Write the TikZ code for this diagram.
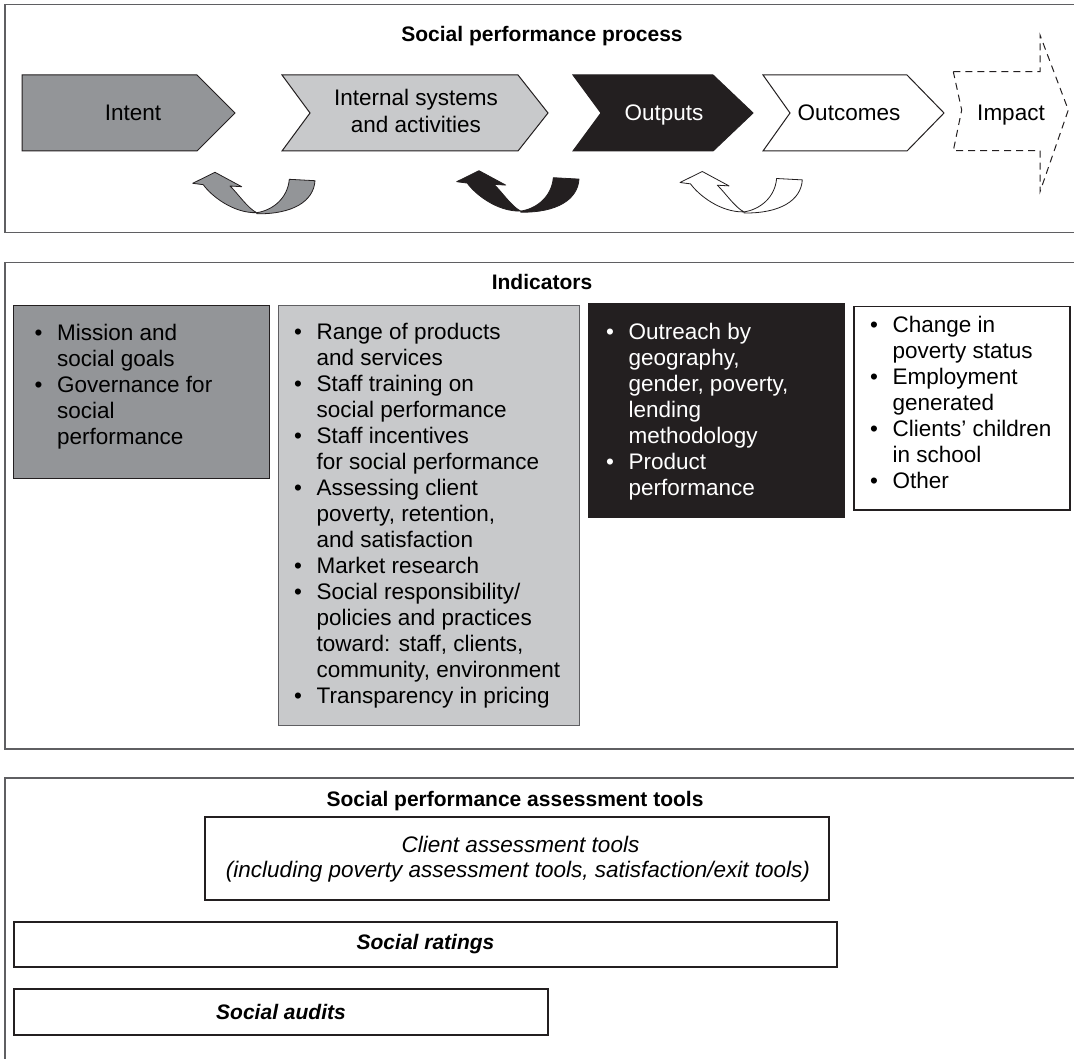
\documentclass[tikz,border=0pt]{standalone}
\usepackage{fontspec}
\setmainfont{Liberation Sans}
\definecolor{ink}{RGB}{35,31,32}
\definecolor{midgray}{RGB}{147,149,152}
\definecolor{lightgray}{RGB}{200,201,203}
\definecolor{framegray}{RGB}{95,95,98}
\newcommand\bl{\makebox[22.5pt][l]{\textbullet}}
\newcommand\ct{\hspace*{22.5pt}}
\newcommand\curvyarrow[2]{%
  \begin{scope}[shift={#1}]
    \filldraw[fill=#2, draw=ink, line width=0.8pt, line join=round]
      (0,0) -- (22.3,-11) -- (49,3.4) -- (37.3,2.7)
      .. controls (45,10) and (55,25) .. (64,29.4)
      .. controls (40,30) and (18,12) .. (10.6,1.4) -- cycle;
    \filldraw[fill=#2, draw=ink, line width=0.8pt, line join=round]
      (96.6,-4) -- (122.3,-2.6)
      .. controls (121,18) and (100,31) .. (64,30.5)
      -- (64,29.4)
      .. controls (80,27) and (95,15) .. (96.6,-4) -- cycle;
  \end{scope}}
\begin{document}
\begin{tikzpicture}[x=1pt,y=-1pt,
  frame/.style={draw=framegray, line width=1.6pt},
  chev/.style={draw=ink, line width=1pt, line join=miter},
  lbl/.style={font=\fontsize{22.5}{28}\selectfont, inner sep=0, anchor=base},
  ttl/.style={font=\bfseries\fontsize{21}{25}\selectfont, inner sep=0, anchor=base},
  blist/.style={anchor=north west, inner sep=0, align=left, font=\fontsize{22.5}{26}\selectfont},
  indbox/.style={anchor=north west, inner sep=0, line width=1.2pt},
  toolbox/.style={draw=ink, line width=1.1pt, inner sep=0},
  toolt/.style={font=\fontsize{22.5}{25}\selectfont\itshape, inner sep=0, anchor=base}]
\useasboundingbox (0,0) rectangle (1074,1059);
\fill[white] (0,0) rectangle (1074,1059);
\clip (0,0) rectangle (1074,1059);

% ---------- frames ----------
\draw[frame] (1085,4.5) -| (5,232.7) -- (1085,232.7);
\draw[frame] (1085,262.6) -| (5,748.8) -- (1085,748.8);
\draw[frame] (1085,778) -| (5,1070);

% ---------- top: process ----------
\node[ttl] (t1) at (542,42) {Social performance process};

\filldraw[chev, fill=midgray] (22,75) -- (197,75) -- (235,113) -- (197,151) -- (22,151) -- cycle;
\filldraw[chev, fill=lightgray] (282,75) -- (518,75) -- (548,113) -- (518,151) -- (282,151) -- (310,113) -- cycle;
\filldraw[chev, fill=ink] (573,75) -- (713,75) -- (753,113) -- (713,151) -- (573,151) -- (601,113) -- cycle;
\filldraw[chev, fill=white] (763,75) -- (907,75) -- (944,113) -- (907,151) -- (763,151) -- (790,113) -- cycle;
\draw[ink, line width=1pt, dash pattern=on 7pt off 5pt]
  (953.3,71.7) -- (1040,71.7) -- (1040,35) -- (1068.3,110) -- (1040,191.7)
  -- (1040,150.7) -- (953.3,150.7) -- (961.7,110) -- cycle;

\node[lbl] (intent) at (133,121) {Intent};
\node[lbl] (internal1) at (416,106) {Internal systems};
\node[lbl] (internal2) at (416,133) {and activities};
\node[lbl, text=white] (outputs) at (664,121) {Outputs};
\node[lbl] (outcomes) at (849,121) {Outcomes};
\node[lbl] (impact) at (1011,121) {Impact};

\curvyarrow{(192.7,183.3)}{midgray}
\curvyarrow{(456.7,181.7)}{ink}
\curvyarrow{(680,182.5)}{white}

% ---------- indicators ----------
\node[ttl] (t2) at (542,290) {Indicators};

\node[indbox, draw=ink, fill=midgray, minimum width=256, minimum height=173] (b1) at (12.8,304.8) {};
\node[indbox, draw=framegray, fill=lightgray, minimum width=301, minimum height=420] (b2) at (278,304.8) {};
\node[indbox, draw=ink, fill=ink, minimum width=256, minimum height=214] (b3) at (588,303.2) {};
\node[indbox, draw=ink, fill=white, minimum width=216, minimum height=203] (b4) at (853.4,306.3) {};

\node[blist] (l1) at (34.5,321.8) {\strut\bl Mission and\\ \ct social goals\\ \bl Governance for\\ \ct social\\ \ct performance};
\node[blist] (l2) at (294,320.8) {\strut\bl Range of products\\ \ct and services\\ \bl Staff training on\\ \ct social performance\\ \bl Staff incentives\\ \ct for social performance\\ \bl Assessing client\\ \ct poverty, retention,\\ \ct and satisfaction\\ \bl Market research\\ \bl Social responsibility/\\ \ct policies and practices\\ \ct toward: staff, clients,\\ \ct community, environment\\ \bl Transparency in pricing};
\node[blist, text=white] (l3) at (606,320.8) {\strut\bl Outreach by\\ \ct geography,\\ \ct gender, poverty,\\ \ct lending\\ \ct methodology\\ \bl Product\\ \ct performance};
\node[blist] (l4) at (870,313.8) {\strut\bl Change in\\ \ct poverty status\\ \bl Employment\\ \ct generated\\ \bl Clients’ children\\ \ct in school\\ \bl Other};

% ---------- tools ----------
\node[ttl] (t3) at (515,806) {Social performance assessment tools};

\node[toolbox, minimum width=624, minimum height=83] (client) at (517,858.5) {};
\node[toolt] (c1) at (520.5,852) {Client assessment tools};
\node[toolt] (c2) at (518,877) {(including poverty assessment tools, satisfaction/exit tools)};

\node[toolbox, minimum width=823, minimum height=45, font=\bfseries\itshape\fontsize{21}{25}\selectfont] (ratings) at (425.5,944.5) {Social ratings};
\node[toolbox, minimum width=534, minimum height=46, font=\bfseries\itshape\fontsize{21}{25}\selectfont] (audits) at (281,1012) {Social audits};
\end{tikzpicture}
\end{document}
